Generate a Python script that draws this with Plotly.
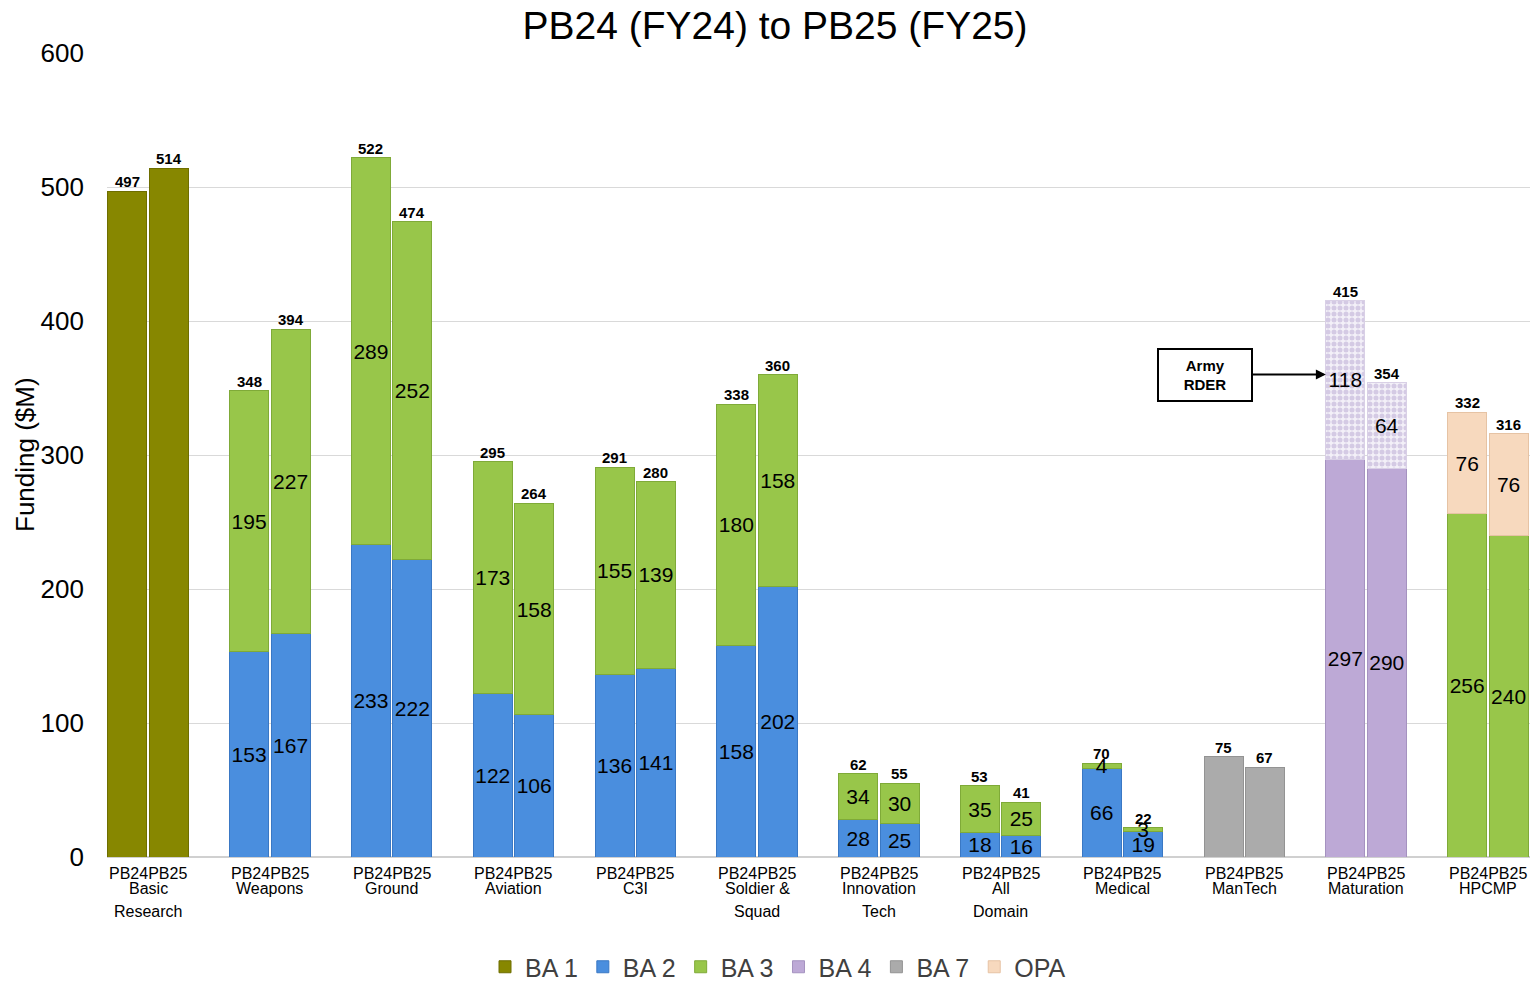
import plotly.graph_objects as go

# ---------------- data ----------------
cat_line1 = ["Basic", "Weapons", "Ground", "Aviation", "C3I", "Soldier &",
             "Innovation", "All", "Medical", "ManTech", "Maturation", "HPCMP"]
cat_line2 = ["Research", "", "", "", "", "Squad", "Tech", "Domain", "", "", "", ""]
bar_labels = ["PB24", "PB25"]

ba1_pb24 = [497, None, None, None, None, None, None, None, None, None, None, None]
ba1_pb25 = [514, None, None, None, None, None, None, None, None, None, None, None]
ba2_pb24 = [None, 153, 233, 122, 136, 158, 28, 18, 66, None, None, None]
ba2_pb25 = [None, 167, 222, 106, 141, 202, 25, 16, 19, None, None, None]
ba3_pb24 = [None, 195, 289, 173, 155, 180, 34, 35, 4, None, None, 256]
ba3_pb25 = [None, 227, 252, 158, 139, 158, 30, 25, 3, None, None, 240]
ba4_pb24 = [None, None, None, None, None, None, None, None, None, None, 297, None]
ba4_pb25 = [None, None, None, None, None, None, None, None, None, None, 290, None]
rder_pb24 = [None, None, None, None, None, None, None, None, None, None, 118, None]
rder_pb25 = [None, None, None, None, None, None, None, None, None, None, 64, None]
ba7_pb24 = [None, None, None, None, None, None, None, None, None, 75, None, None]
ba7_pb25 = [None, None, None, None, None, None, None, None, None, 67, None, None]
opa_pb24 = [None, None, None, None, None, None, None, None, None, None, None, 76]
opa_pb25 = [None, None, None, None, None, None, None, None, None, None, None, 76]

FONT = "Liberation Sans, Arial, sans-serif"
OFF = 0.17
W = 0.32

# name, pb24, pb25, fill, edge, pattern fg, legend, inside labels
series = [
    ("BA 1", ba1_pb24, ba1_pb25, "#878700", "#6E6E00", None, True, False),
    ("BA 2", ba2_pb24, ba2_pb25, "#4A8EDE", "#3A78C4", None, True, True),
    ("BA 3", ba3_pb24, ba3_pb25, "#98C64A", "#7FAA38", None, True, True),
    ("BA 4", ba4_pb24, ba4_pb25, "#BDA9D6", "#A592C0", None, True, True),
    ("RDER", rder_pb24, rder_pb25, "#F3F0F8", "#D9D0E6", "#B5A3D0", False, True),
    ("BA 7", ba7_pb24, ba7_pb25, "#ABABAB", "#939393", None, True, False),
    ("OPA", opa_pb24, opa_pb25, "#F7D9BE", "#E6C3A4", None, True, True),
]

fig = go.Figure()
for name, v24, v25, color, edge, pat, show, lab in series:
    xs, ys = [], []
    for i in range(len(cat_line1)):
        if v24[i] is not None:
            xs.append(i - OFF); ys.append(v24[i])
        if v25[i] is not None:
            xs.append(i + OFF); ys.append(v25[i])
    marker = dict(color=color, line=dict(width=1, color=edge))
    if pat:
        marker["pattern"] = dict(shape=".", fgcolor=pat, bgcolor=color, size=6, solidity=0.55)
    fig.add_trace(go.Bar(
        x=xs, y=ys, name=name, width=W, marker=marker, showlegend=show,
        text=[str(v) for v in ys] if lab else None,
        textposition="inside" if lab else "none", insidetextanchor="middle",
        textangle=0, insidetextfont=dict(family=FONT, size=21, color="black"),
        cliponaxis=False,
    ))

# totals and category labels
for i in range(len(cat_line1)):
    for sgn, vals in [(-1, [ba1_pb24, ba2_pb24, ba3_pb24, ba4_pb24, rder_pb24, ba7_pb24, opa_pb24]),
                      (1, [ba1_pb25, ba2_pb25, ba3_pb25, ba4_pb25, rder_pb25, ba7_pb25, opa_pb25])]:
        tot = sum(v[i] for v in vals if v[i] is not None)
        fig.add_annotation(x=i + sgn * OFF, y=tot, text="<b>%d</b>" % tot, showarrow=False,
                           yanchor="bottom", yshift=-1,
                           font=dict(family=FONT, size=15, color="black"))
    fig.add_annotation(x=i, y=0, text="".join(bar_labels), showarrow=False, yanchor="middle",
                       yshift=-16, font=dict(family=FONT, size=16, color="black"))
    fig.add_annotation(x=i, y=0, text=cat_line1[i], showarrow=False, yanchor="middle",
                       yshift=-31, font=dict(family=FONT, size=16, color="black"))
    if cat_line2[i]:
        fig.add_annotation(x=i, y=0, text=cat_line2[i], showarrow=False, yanchor="middle",
                           yshift=-54, font=dict(family=FONT, size=16, color="black"))

# Army RDER callout
fig.add_annotation(x=10 - OFF - W / 2, y=360, text="<b>Army<br>RDER</b>", showarrow=True,
                   ax=-121, ay=0, axref="pixel", ayref="pixel",
                   arrowhead=2, arrowsize=1, arrowwidth=2, arrowcolor="black",
                   bordercolor="black", borderwidth=2, borderpad=2, bgcolor="white",
                   width=88, height=46, font=dict(family=FONT, size=15, color="black"))

# y-axis title
fig.add_annotation(xref="paper", yref="paper", x=0, y=0.5, xshift=-82, xanchor="center",
                   yanchor="middle", text="Funding ($M)", textangle=-90, showarrow=False,
                   font=dict(family=FONT, size=26, color="black"))

fig.update_layout(
    width=1530, height=982,
    margin=dict(l=107, r=0, t=53, b=125),
    paper_bgcolor="white", plot_bgcolor="white",
    barmode="stack",
    font=dict(family=FONT, color="black"),
    title=dict(text="PB24 (FY24) to PB25 (FY25)", x=775 / 1530, xanchor="center",
               y=1 - 25 / 982, yanchor="middle", yref="container",
               font=dict(family=FONT, size=39, color="black")),
    xaxis=dict(range=[-0.337, 11.346], showticklabels=False, showgrid=False, zeroline=False,
               showline=False),
    yaxis=dict(range=[0, 600], dtick=100, showgrid=True, gridcolor="#D9D9D9", gridwidth=1,
               zeroline=True, zerolinecolor="#D0D0D0", zerolinewidth=1.5, showline=False,
               tickfont=dict(family=FONT, size=26, color="black"), ticklabelstandoff=22),
    legend=dict(orientation="h", xref="container", yref="container", x=778 / 1530,
                xanchor="center", y=1 - 967 / 982, yanchor="middle",
                font=dict(family=FONT, size=25, color="#404040"), itemwidth=30,
                traceorder="normal"),
    uniformtext=dict(minsize=21, mode="show"),
)

fig.write_html("out.html", config={"displayModeBar": False},
               post_script="document.body.style.margin='0';document.body.style.overflow='hidden';")
